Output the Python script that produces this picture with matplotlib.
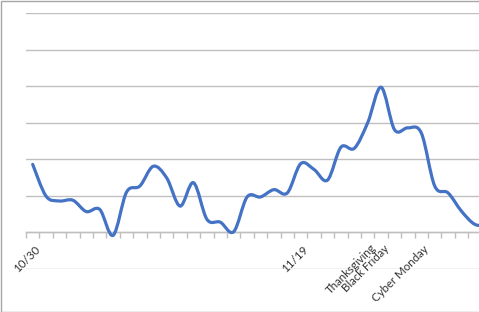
import matplotlib
matplotlib.use("Agg")
import matplotlib.pyplot as plt
from matplotlib.path import Path
from matplotlib.patches import PathPatch, Rectangle
import numpy as np

# Data (arbitrary units; axis value labels are hidden in the original)
values = [1.86, 0.99, 0.86, 0.88, 0.57, 0.63, -0.08, 1.10, 1.27, 1.81,
          1.49, 0.72, 1.36, 0.36, 0.28, 0.02, 0.97, 0.97, 1.17, 1.08,
          1.88, 1.72, 1.43, 2.33, 2.30, 3.00, 3.97, 2.81, 2.86, 2.72,
          1.27, 1.08, 0.58, 0.22, 0.20]
label_positions = [0, 20, 26, 26, 29]
tick_labels = ["10/30", "11/19", "Thanksgiving", "Black Friday", "Cyber Monday"]
label_offsets = [(2, -11), (2, -11), (-11, -9), (2, -11), (2, -11)]

W, H = 479, 312
fig = plt.figure(figsize=(W / 100, H / 100), dpi=100)
fig.patch.set_facecolor("white")

n = len(values)
step = 13.4
left_px, top_px, bottom_px = 26, 13, 269
ax = fig.add_axes([left_px / W, (H - bottom_px) / H,
                   n * step / W, (bottom_px - top_px) / H])
ax.set_xlim(0, n)
ax.set_ylim(-1, 6)

# gridlines
for g in range(-1, 7):
    ax.axhline(g, color="#c0c0c0", lw=1.0, zorder=1)

for s in ["top", "right", "left"]:
    ax.spines[s].set_visible(False)
ax.spines["bottom"].set_position(("data", 0))
ax.spines["bottom"].set_color("#bfbfbf")
ax.spines["bottom"].set_linewidth(1.0)
ax.set_yticks([])

# ticks at category boundaries
ax.set_xticks(np.arange(0, n + 1))
ax.set_xticklabels([])
ax.tick_params(axis="x", which="major", length=4, width=1, color="#bfbfbf", direction="out")

# category labels, rotated like the original
for pos, lab, (dx, dy) in zip(label_positions, tick_labels, label_offsets):
    ax.annotate(lab, xy=(pos + 0.5, 0), xycoords="data",
                xytext=(dx, dy), textcoords="offset pixels",
                rotation=45, ha="right", va="top", rotation_mode="anchor",
                fontsize=8.3, family="Lato", color="#333333",
                annotation_clip=False)

# Smoothed line (Catmull-Rom style Bezier like spreadsheet smoothing)
xs = np.arange(n) + 0.5
ys = np.array(values, dtype=float)
verts = [(xs[0], ys[0])]
codes = [Path.MOVETO]
for i in range(n - 1):
    p0 = (xs[i - 1], ys[i - 1]) if i > 0 else (xs[i], ys[i])
    p1 = (xs[i], ys[i])
    p2 = (xs[i + 1], ys[i + 1])
    p3 = (xs[i + 2], ys[i + 2]) if i + 2 < n else (xs[i + 1], ys[i + 1])
    c1 = (p1[0] + (p2[0] - p0[0]) / 6, p1[1] + (p2[1] - p0[1]) / 6)
    c2 = (p2[0] - (p3[0] - p1[0]) / 6, p2[1] - (p3[1] - p1[1]) / 6)
    verts += [c1, c2, p2]
    codes += [Path.CURVE4] * 3
ax.add_patch(PathPatch(Path(verts, codes), facecolor="none", edgecolor="#4472c4",
                       lw=2.3, capstyle="round", joinstyle="round", zorder=3,
                       clip_on=False))

# outer border
fig.add_artist(Rectangle((0.5 / W, 0.5 / H), 1.2, 1 - 1.0 / H, transform=fig.transFigure,
                         facecolor="none", edgecolor="#a6a6a6", lw=1.0))

fig.savefig("out.png", dpi=100)
